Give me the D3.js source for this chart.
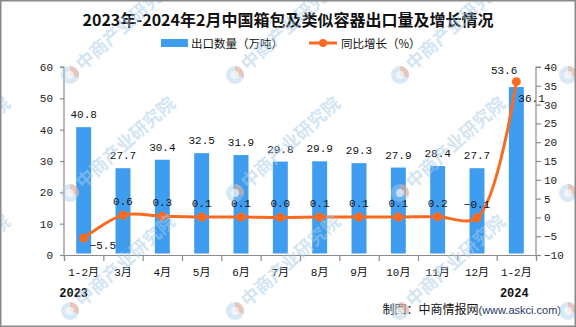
<!DOCTYPE html>
<html>
<head>
<meta charset="utf-8">
<script src="https://cdn.jsdelivr.net/npm/d3@7"></script>
<style>
  html, body { margin: 0; padding: 0; background: #fff; }
  svg { display: block; }
</style>
</head>
<body>
<svg id="chart" width="576" height="327"></svg>
<script>
// Months along the x axis (two different Jan–Feb periods, so index-keyed)
const categories = ["1-2月", "3月", "4月", "5月", "6月", "7月", "8月", "9月", "10月", "11月", "12月", "1-2月"];
// Export volume, 10k tonnes
const exportVolume = [40.8, 27.7, 30.4, 32.5, 31.9, 29.8, 29.9, 29.3, 27.9, 28.4, 27.7, 53.6];
// Year-on-year growth, %
const yoyGrowth = [-5.5, 0.6, 0.3, 0.1, 0.1, 0.0, 0.1, 0.1, 0.1, 0.2, -0.1, 36.1];
// Axis ticks
const leftTicks = [0, 10, 20, 30, 40, 50, 60];
const rightTicks = [-10, -5, 0, 5, 10, 15, 20, 25, 30, 35, 40];
// Year captions under the first and last month
const yearLabels = ["2023", "2024"];

const titleText = "2023年-2024年2月中国箱包及类似容器出口量及增长情况";
const legendBar = "出口数量（万吨）";
const legendLine = "同比增长（%）";
const sourceLabel = "制图：中商情报网";
const sourceUrl = "(www.askci.com)";
const watermarkText = "中商产业研究院";

const W = 576, H = 327;
const plot = { left: 64, right: 536, top: 67, bottom: 255 };
const barColor = "#3f9df0";
const lineColor = "#fb6a21";
const axisColor = "#8c8c8c";
const numFont = "'Liberation Mono', 'Noto Sans CJK SC', monospace";
const cjkFont = "'Noto Sans CJK SC', sans-serif";

const svg = d3.select("#chart");
svg.append("rect").attr("width", W).attr("height", H).attr("fill", "#fff");

const idx = d3.range(categories.length);
const x = d3.scaleBand().domain(idx).range([plot.left, plot.right])
  .paddingInner(0.62).paddingOuter(0.31);
const xc = i => x(i) + x.bandwidth() / 2;
const yL = d3.scaleLinear().domain([0, 60]).range([plot.bottom, plot.top]);
const yR = d3.scaleLinear().domain([-10, 40]).range([plot.bottom, plot.top]);
const fmt = d3.format(".1f");

// Title
svg.append("text")
  .attr("x", W / 2).attr("y", 26)
  .attr("text-anchor", "middle")
  .attr("font-family", cjkFont).attr("font-weight", "bold").attr("font-size", 16)
  .attr("fill", "#111")
  .text(titleText);

// Legend
const lg = svg.append("g");
lg.append("rect").attr("x", 161).attr("y", 39).attr("width", 27).attr("height", 8).attr("fill", barColor);
lg.append("text").attr("x", 191).attr("y", 47.5)
  .attr("font-family", cjkFont).attr("font-size", 11.5).attr("fill", "#111").text(legendBar);
lg.append("line").attr("x1", 309).attr("x2", 337).attr("y1", 43).attr("y2", 43)
  .attr("stroke", lineColor).attr("stroke-width", 3);
lg.append("circle").attr("cx", 323).attr("cy", 43).attr("r", 4).attr("fill", lineColor);
lg.append("text").attr("x", 341).attr("y", 47.5)
  .attr("font-family", cjkFont).attr("font-size", 11.5).attr("fill", "#111").text(legendLine);

// Bars
svg.append("g").selectAll("rect").data(exportVolume).join("rect")
  .attr("x", (d, i) => x(i))
  .attr("width", x.bandwidth())
  .attr("y", d => yL(d))
  .attr("height", d => yL(0) - yL(d) - 1.5)
  .attr("fill", barColor);

// Left axis
const axL = svg.append("g").attr("transform", `translate(${plot.left},0)`)
  .call(d3.axisLeft(yL).tickValues(leftTicks).tickSize(4).tickPadding(7).tickFormat(d3.format("d")));
// Right axis
const axR = svg.append("g").attr("transform", `translate(${plot.right},0)`)
  .call(d3.axisRight(yR).tickValues(rightTicks).tickSize(5).tickPadding(3).tickFormat(d3.format("d")));
// Bottom axis: ticks at category boundaries
const xb = d3.scaleLinear().domain([0, categories.length]).range([plot.left, plot.right]);
const axB = svg.append("g").attr("transform", `translate(0,${plot.bottom})`)
  .call(d3.axisBottom(xb).tickValues(d3.range(categories.length + 1)).tickSize(6).tickFormat(""));
[axL, axR, axB].forEach(a => {
  a.select(".domain").attr("stroke", axisColor).attr("stroke-width", 1.2);
  a.selectAll(".tick line").attr("stroke", axisColor).attr("stroke-width", 1.2);
  a.selectAll(".tick text").attr("font-family", numFont).attr("font-size", 11).attr("fill", "#222");
});
axL.select(".domain").attr("d", `M-4,${yL(60)}H0V${plot.bottom}`);
axR.select(".domain").attr("d", `M5,${yR(40)}H0V${plot.bottom}`);

// Category labels
svg.append("g").selectAll("text").data(categories).join("text")
  .attr("x", (d, i) => xc(i)).attr("y", 276)
  .attr("text-anchor", "middle")
  .attr("font-family", numFont).attr("font-size", 11).attr("fill", "#111")
  .text(d => d);

// Year captions
svg.append("g").selectAll("text").data(yearLabels).join("text")
  .attr("x", (d, i) => (i === 0 ? xc(0) - 10 : xc(categories.length - 1) - 2))
  .attr("y", 297)
  .attr("text-anchor", "middle")
  .attr("font-family", numFont).attr("font-weight", "bold").attr("font-size", 12).attr("fill", "#111")
  .text(d => d);

// Growth line
const line = d3.line()
  .x((d, i) => xc(i))
  .y(d => yR(d))
  .curve(d3.curveCatmullRom.alpha(0.5));
svg.append("path").datum(yoyGrowth)
  .attr("d", line)
  .attr("fill", "none").attr("stroke", lineColor).attr("stroke-width", 3)
  .attr("stroke-linejoin", "round");
svg.append("g").selectAll("circle").data(yoyGrowth).join("circle")
  .attr("cx", (d, i) => xc(i)).attr("cy", d => yR(d)).attr("r", 4.5)
  .attr("fill", lineColor);

const last = categories.length - 1;

// Bar value labels
svg.append("g").selectAll("text").data(exportVolume).join("text")
  .attr("x", (d, i) => (i === last ? xc(i) + 1 : xc(i)))
  .attr("y", (d, i) => (i === last ? yL(d) - 13 : yL(d) - 9))
  .attr("text-anchor", (d, i) => (i === last ? "end" : "middle"))
  .attr("font-family", numFont).attr("font-size", 11).attr("fill", "#111")
  .text(d => fmt(d));

// Growth value labels
svg.append("g").selectAll("text").data(yoyGrowth).join("text")
  .attr("x", (d, i) => (i === 0 ? xc(i) + 6 : i === last ? xc(i) + 2 : xc(i)))
  .attr("y", (d, i) => (i === 0 ? yR(d) + 11 : i === last ? yR(d) + 20 : yR(d) - 10))
  .attr("text-anchor", (d, i) => (i === 0 || i === last ? "start" : "middle"))
  .attr("font-family", numFont).attr("font-size", 11).attr("fill", "#111")
  .text(d => fmt(d));

// Source note
const src = svg.append("text").attr("x", 561).attr("y", 314).attr("text-anchor", "end");
src.append("tspan").attr("font-family", cjkFont).attr("font-size", 12).attr("fill", "#111").text(sourceLabel);
src.append("tspan").attr("font-family", "'Liberation Sans', Arial, sans-serif").attr("font-size", 11)
  .attr("fill", "#1f3864").text(sourceUrl);

// Faint tiled watermark
const wm = svg.append("g").attr("pointer-events", "none");
const cols = [-95, 70, 235, 400, 568];
const rows = [75, 193, 311];
rows.forEach(ry => cols.forEach(cx => {
  const g = wm.append("g").attr("transform", `translate(${cx},${ry})`);
  g.append("circle").attr("r", 9).attr("fill", "#a9cde9").attr("opacity", 0.45);
  g.append("path")
    .attr("d", d3.arc()({ innerRadius: 0, outerRadius: 9, startAngle: 0, endAngle: Math.PI * 0.6 }))
    .attr("fill", "#f4a27e").attr("opacity", 0.45);
  g.append("circle").attr("r", 4).attr("fill", "#fff").attr("opacity", 0.6);
  g.append("text")
    .attr("transform", "rotate(-42) translate(12,6)")
    .attr("font-family", cjkFont).attr("font-weight", "bold").attr("font-size", 18)
    .attr("fill", "#a9cde9").attr("opacity", 0.5)
    .text(watermarkText);
}));

// Frame
svg.append("rect").attr("x", 0.75).attr("y", 0.75).attr("width", W - 1.5).attr("height", H - 1.5)
  .attr("fill", "none").attr("stroke", "#8a8a8a").attr("stroke-width", 1.5);
</script>
</body>
</html>
